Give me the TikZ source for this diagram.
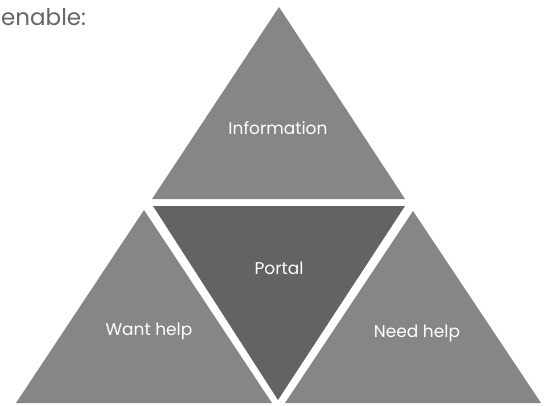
\documentclass[tikz,border=0pt]{standalone}
\usepackage{fontspec}
\setmainfont{Poppins}
\definecolor{tri}{HTML}{868686}
\definecolor{tridark}{HTML}{636363}
\definecolor{txtgray}{HTML}{666666}
\begin{document}
\begin{tikzpicture}[x=1pt,y=-1pt,
  tribox/.style={fill=tri,draw=none},
  tridk/.style={fill=tridark,draw=none},
  lbl/.style={text=white,font=\fontsize{17}{20}\selectfont,anchor=base,inner sep=0pt}]
\useasboundingbox (0,0) rectangle (544,405);
% top triangle
\coordinate (tA) at (279,7);
\coordinate (tB) at (152,199);
\coordinate (tC) at (405,199);
\fill[tribox] (tA) -- (tB) -- (tC) -- cycle;
% portal (inverted)
\coordinate (pA) at (153,206);
\coordinate (pB) at (405,206);
\coordinate (pC) at (278,400);
\fill[tridk] (pA) -- (pB) -- (pC) -- cycle;
% left triangle
\coordinate (lA) at (144,210);
\coordinate (lB) at (16,403);
\coordinate (lC) at (272,403);
\fill[tribox] (lA) -- (lB) -- (lC) -- cycle;
% right triangle
\coordinate (rA) at (413,211);
\coordinate (rB) at (285,403);
\coordinate (rC) at (541,403);
\fill[tribox] (rA) -- (rB) -- (rC) -- cycle;
\node[lbl] (info) at (278,134) {Information};
\node[lbl] (portal) at (279,274) {Portal};
\node[lbl] (want) at (149,335) {Want help};
\node[lbl] (need) at (417,337) {Need help};
\node[text=txtgray,font=\fontsize{23}{27}\selectfont,anchor=base west,inner sep=0pt] (enable) at (1,25) {enable:};
\end{tikzpicture}
\end{document}
